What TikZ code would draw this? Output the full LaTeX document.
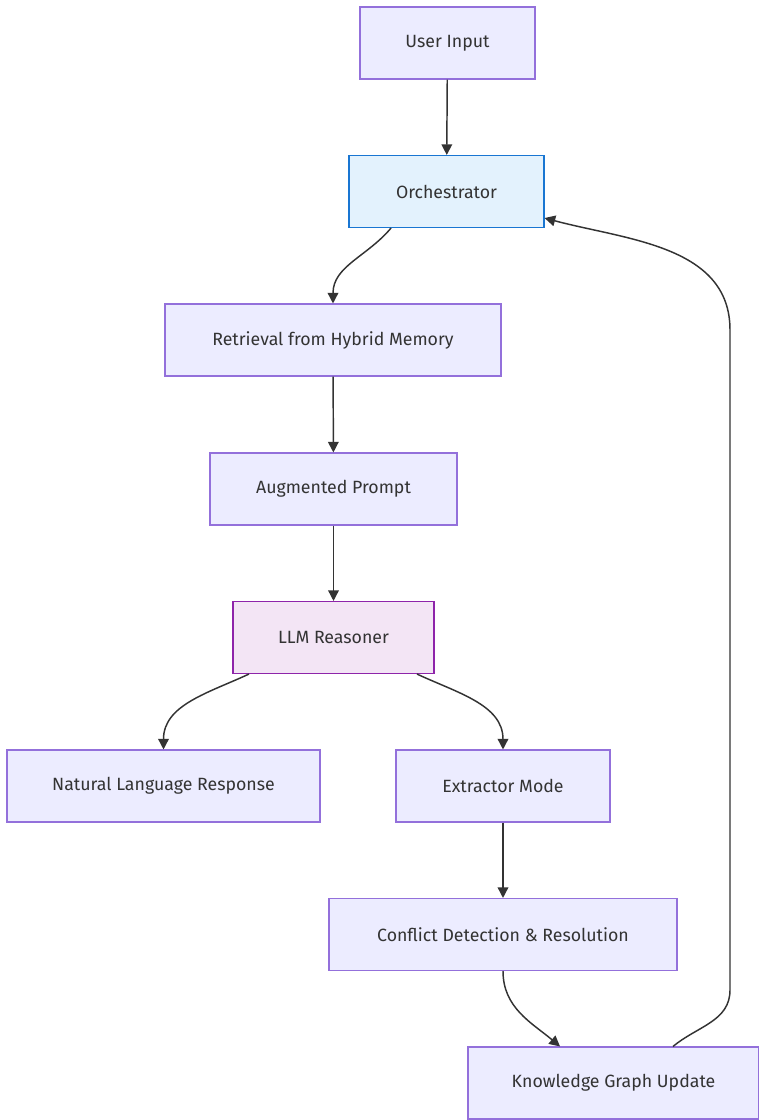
\documentclass[tikz,border=0pt]{standalone}
\usepackage{fontspec}
\setmainfont{Fira Sans}
\usepackage{tikz}
\usetikzlibrary{arrows.meta}
\definecolor{boxfill}{HTML}{ECECFF}
\definecolor{boxline}{HTML}{9370DB}
\definecolor{orchfill}{HTML}{E3F2FD}
\definecolor{orchline}{HTML}{1976D2}
\definecolor{llmfill}{HTML}{F3E5F5}
\definecolor{llmline}{HTML}{8E24AA}
\definecolor{ink}{HTML}{333333}
\tikzset{
  box/.style={rectangle, draw=boxline, fill=boxfill, line width=0.8pt, minimum height=54pt, inner sep=0pt, text=ink, font=\fontsize{13.3pt}{16pt}\selectfont},
  orchbox/.style={box, draw=orchline, fill=orchfill},
  llmbox/.style={box, draw=llmline, fill=llmfill},
  flow/.style={draw=ink, line width=1.1pt, -{Triangle[length=8pt,width=8pt]}}
}

\begin{document}
\begin{tikzpicture}[x=0.75pt, y=-0.75pt]
		\useasboundingbox (0,0) rectangle (759,1120);
		% nodes
		\node[box, minimum width=131.25pt] (user) at (447.5,43) {User Input};
		\node[orchbox, minimum width=146.25pt] (orch) at (446.5,191.5) {Orchestrator};
		\node[box, minimum width=252pt] (retr) at (333,340) {Retrieval from Hybrid Memory};
		\node[box, minimum width=185.25pt] (aug) at (333.5,489) {Augmented Prompt};
		\node[llmbox, minimum width=150.75pt] (llm) at (333.5,637.5) {LLM Reasoner};
		\node[box, minimum width=234.75pt] (resp) at (163.5,786) {Natural Language Response};
		\node[box, minimum width=160.5pt] (extr) at (503,786) {Extractor Mode};
		\node[box, minimum width=261pt] (conf) at (503,934.5) {Conflict Detection \& Resolution};
		\node[box, minimum width=218.25pt] (kgu) at (613.5,1083) {Knowledge Graph Update};
		\coordinate (loopbot) at (730,990);
		\coordinate (looptop) at (730,330);
		% edges
		\draw[flow] (user) -- (orch);
		\draw[flow] ([xshift=-41.6pt]orch.south) to[out=-130, in=90] (retr.north);
		\draw[flow] (retr) -- (aug);
		\draw[flow] (aug) -- (llm);
		\draw[flow] ([xshift=-63.4pt]llm.south) to[out=-155, in=90] (resp.north);
		\draw[flow] ([xshift=62.6pt]llm.south) to[out=-25, in=90] (extr.north);
		\draw[flow] (extr) -- (conf);
		\draw[flow] (conf.south) to[out=-90, in=140] ([xshift=-40.1pt]kgu.north);
		\draw[flow] ([xshift=44.6pt]kgu.north) to[out=40, in=-90] (loopbot) -- (looptop)
			to[out=90, in=-15] ([yshift=-19.9pt]orch.east);
	\end{tikzpicture}
\end{document}
